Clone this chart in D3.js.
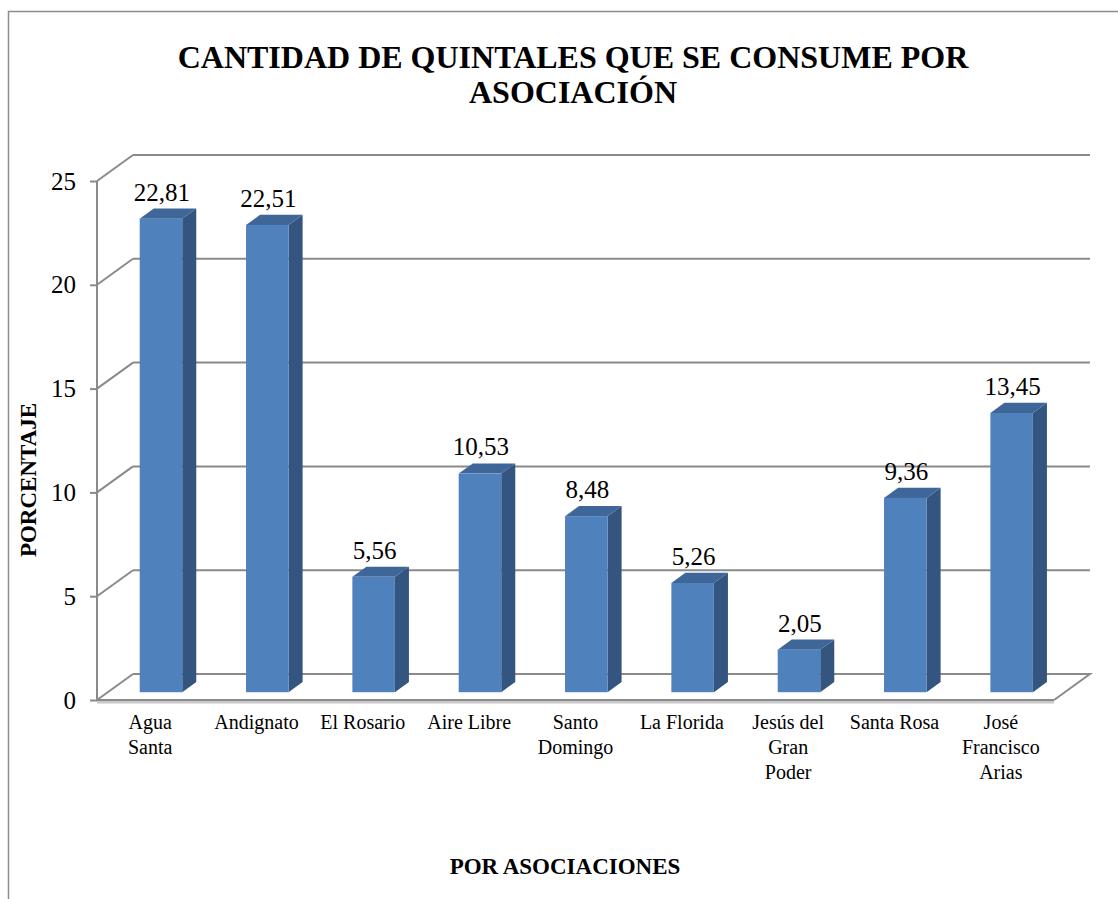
<!DOCTYPE html>
<html>
<head>
<meta charset="utf-8">
<script src="https://cdn.jsdelivr.net/npm/d3@7"></script>
<style>
  html, body { margin: 0; padding: 0; background: #fff; }
  svg { display: block; }
</style>
</head>
<body>
<svg id="chart" width="1118" height="899"></svg>
<script>
// Asociaciones (each entry holds the lines of its axis label)
const categories = [
  ["Agua", "Santa"],
  ["Andignato"],
  ["El Rosario"],
  ["Aire Libre"],
  ["Santo", "Domingo"],
  ["La Florida"],
  ["Jesús del", "Gran", "Poder"],
  ["Santa Rosa"],
  ["José", "Francisco", "Arias"]
];
const values = [22.81, 22.51, 5.56, 10.53, 8.48, 5.26, 2.05, 9.36, 13.45];
const yTicks = [0, 5, 10, 15, 20, 25];

const titleLines = ["CANTIDAD DE QUINTALES QUE SE CONSUME POR", "ASOCIACIÓN"];
const yTitle = "PORCENTAJE";
const xTitle = "POR ASOCIACIONES";

const serif = "'Liberation Serif', 'Times New Roman', 'DejaVu Serif', serif";

const svg = d3.select("#chart");

// Outer chart frame
svg.append("rect")
  .attr("x", 8.5).attr("y", 11.5)
  .attr("width", 1300).attr("height", 1100)
  .attr("fill", "none").attr("stroke", "#8c8c8c").attr("stroke-width", 1.5);

// Plot geometry: front plane and the depth offset of the 3D box
const plotLeft = 97, plotRight = 1054, plotBottom = 700, plotTop = 181;
const depthX = 36, depthY = -26;

const keys = categories.map((c, i) => i);
const x = d3.scaleBand().domain(keys).range([plotLeft, plotRight]).padding(0);
const y = d3.scaleLinear().domain([0, 25]).range([plotBottom, plotTop]);

const grid = "#8a8a8a";

// Back-wall gridlines plus the left-wall diagonals
const g = svg.append("g");
yTicks.forEach(t => {
  if (t > 0) {
    g.append("line")
      .attr("x1", plotLeft + depthX).attr("x2", plotRight + depthX)
      .attr("y1", y(t) + depthY).attr("y2", y(t) + depthY)
      .attr("stroke", grid).attr("stroke-width", 2);
  }
  g.append("line")
    .attr("x1", plotLeft).attr("y1", y(t))
    .attr("x2", plotLeft + depthX).attr("y2", y(t) + depthY)
    .attr("stroke", grid).attr("stroke-width", 2);
});

// Floor outline
g.append("path")
  .attr("d", `M${plotLeft + depthX},${y(0) + depthY} L${plotRight + depthX},${y(0) + depthY} L${plotRight},${y(0)}`)
  .attr("fill", "none").attr("stroke", grid).attr("stroke-width", 2);
// Front floor edge with a soft shadow
g.append("line")
  .attr("x1", plotLeft).attr("x2", plotRight)
  .attr("y1", y(0) + 2).attr("y2", y(0) + 2)
  .attr("stroke", "#c8c8c8").attr("stroke-width", 3);
g.append("line")
  .attr("x1", plotLeft).attr("x2", plotRight)
  .attr("y1", y(0)).attr("y2", y(0))
  .attr("stroke", grid).attr("stroke-width", 2);

// Vertical axis line and ticks
g.append("line")
  .attr("x1", plotLeft).attr("x2", plotLeft)
  .attr("y1", y(25)).attr("y2", y(0))
  .attr("stroke", grid).attr("stroke-width", 2);
const yAxis = svg.append("g").attr("transform", `translate(${plotLeft},0)`)
  .call(d3.axisLeft(y).tickValues(yTicks).tickSize(7).tickPadding(14).tickFormat(d3.format("d")));
yAxis.select(".domain").remove();
yAxis.attr("font-family", serif);
yAxis.selectAll(".tick line").attr("stroke", grid).attr("stroke-width", 2);
yAxis.selectAll(".tick text")
  .attr("font-size", 25)
  .attr("font-family", serif)
  .attr("fill", "#000");

// Bars: front face, side face and top face
const barFrac = 0.3, barDepth = 0.39;
const barW = x.bandwidth() * 0.4;
const offX = depthX * barFrac, offY = depthY * barFrac;
const dX = depthX * barDepth, dY = depthY * barDepth;
const locale = d3.formatLocale({ decimal: ",", thousands: ".", grouping: [3], currency: ["", ""] });
const fmt = locale.format(".2f");

const bars = svg.append("g");
values.forEach((v, i) => {
  const x0 = x(i) + x.bandwidth() / 2 - barW / 2 + offX;
  const x1 = x0 + barW;
  const yb = y(0) + offY;
  const yt = y(v) + offY;
  // side
  bars.append("path")
    .attr("d", `M${x1},${yt} L${x1 + dX},${yt + dY} L${x1 + dX},${yb + dY} L${x1},${yb} Z`)
    .attr("fill", "#33557f");
  // top
  bars.append("path")
    .attr("d", `M${x0},${yt} L${x0 + dX},${yt + dY} L${x1 + dX},${yt + dY} L${x1},${yt} Z`)
    .attr("fill", "#3f6699");
  // front
  bars.append("rect")
    .attr("x", x0).attr("y", yt)
    .attr("width", barW).attr("height", yb - yt)
    .attr("fill", "#4f81bd");
  // value label
  bars.append("text")
    .attr("x", (x0 + x1) / 2 + 1)
    .attr("y", yt + dY - 8)
    .attr("text-anchor", "middle")
    .attr("font-family", serif)
    .attr("font-size", 25)
    .attr("fill", "#000")
    .text(fmt(v));
});

// Category labels
const cat = svg.append("g");
categories.forEach((lines, i) => {
  const t = cat.append("text")
    .attr("text-anchor", "middle")
    .attr("font-family", serif)
    .attr("font-size", 20)
    .attr("fill", "#000");
  lines.forEach((ln, k) => {
    t.append("tspan")
      .attr("x", x(i) + x.bandwidth() / 2)
      .attr("y", 729 + k * 25)
      .text(ln);
  });
});

// Title
titleLines.forEach((ln, k) => {
  svg.append("text")
    .attr("x", 573).attr("y", 68 + k * 35)
    .attr("text-anchor", "middle")
    .attr("font-family", serif)
    .attr("font-size", 32).attr("font-weight", "bold")
    .attr("fill", "#000")
    .text(ln);
});

// Axis titles
svg.append("text")
  .attr("transform", "translate(36,480) rotate(-90)")
  .attr("text-anchor", "middle")
  .attr("font-family", serif)
  .attr("font-size", 23).attr("font-weight", "bold")
  .attr("fill", "#000")
  .text(yTitle);
svg.append("text")
  .attr("x", 565).attr("y", 874)
  .attr("text-anchor", "middle")
  .attr("font-family", serif)
  .attr("font-size", 23).attr("font-weight", "bold")
  .attr("fill", "#000")
  .text(xTitle);
</script>
</body>
</html>
